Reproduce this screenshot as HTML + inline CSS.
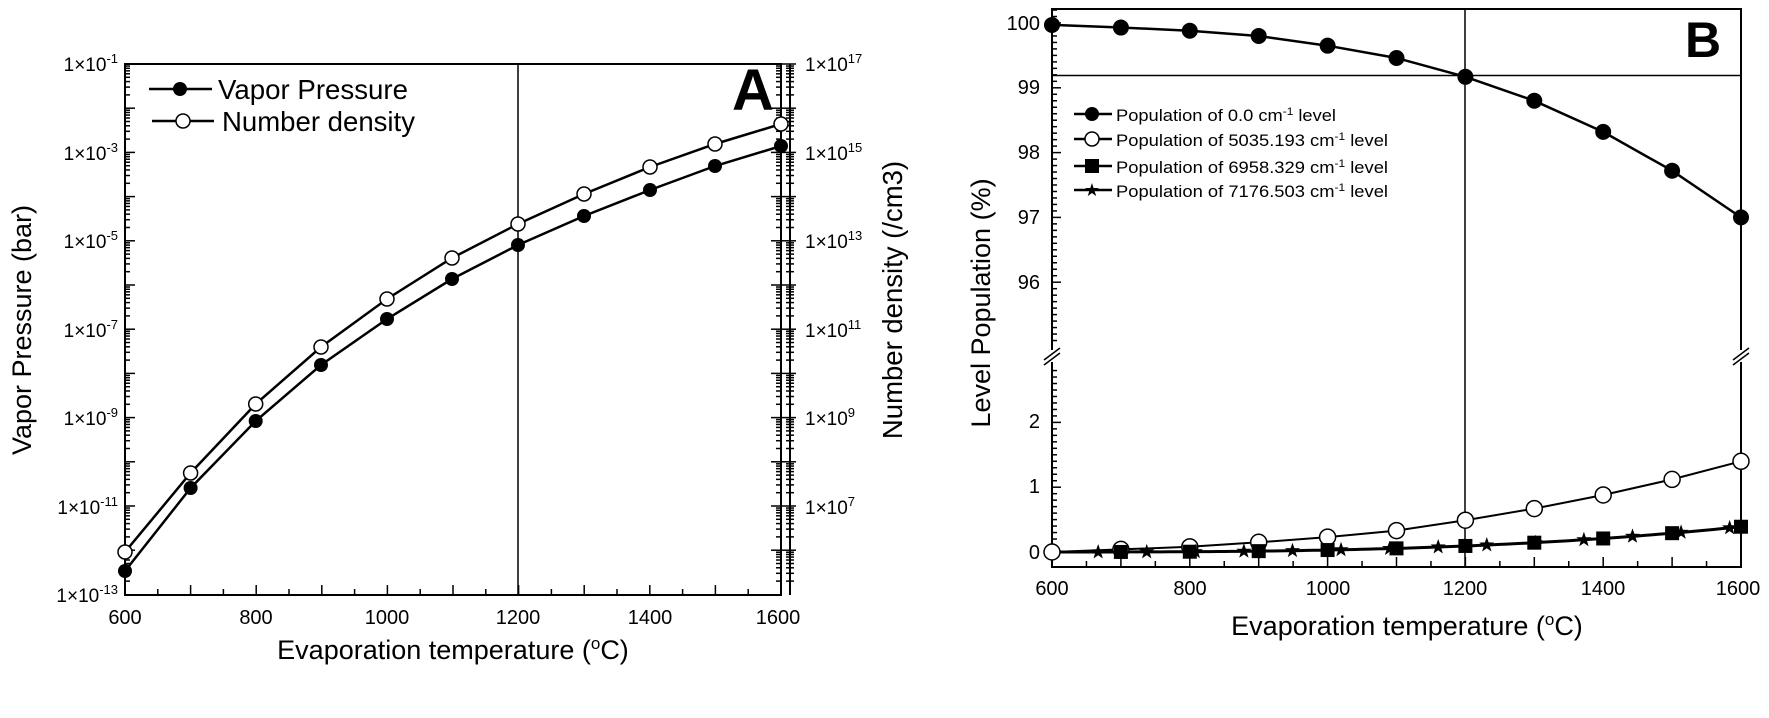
<!DOCTYPE html>
<html><head><meta charset="utf-8"><style>
html,body{margin:0;padding:0;background:#fff;}
svg{display:block;font-family:"Liberation Sans",Arial,sans-serif;}
.n{font-family:"Liberation Sans Narrow","Liberation Sans",sans-serif;}
</style></head><body>
<svg id="s" width="1769" height="718" viewBox="0 0 1769 718" xmlns="http://www.w3.org/2000/svg">
<g id="ticks" stroke="#000" stroke-width="1.5"></g>
<!-- Panel A frame -->
<rect x="125" y="64" width="656" height="531" fill="none" stroke="#000" stroke-width="2"/>
<line x1="790" y1="64" x2="790" y2="595" stroke="#000" stroke-width="2"/>
<line x1="518" y1="64" x2="518" y2="595" stroke="#000" stroke-width="1.5"/>
<!-- A curves -->
<polyline fill="none" stroke="#000" stroke-width="2.5" points="125,571 190.6,488 255.7,421 321,365 387,319 452,279 518,245 584,216 650,190 715,166 781,146"/>
<polyline fill="none" stroke="#000" stroke-width="2.5" points="125,552 190.6,473 255.7,404 321,347 387,299 452,258 518,224 584,194 650,167 715,144 781,124"/>
<g fill="#000">
<circle cx="125" cy="571" r="7"/><circle cx="190.6" cy="488" r="7"/><circle cx="255.7" cy="421" r="7"/><circle cx="321" cy="365" r="7"/><circle cx="387" cy="319" r="7"/><circle cx="452" cy="279" r="7"/><circle cx="518" cy="245" r="7"/><circle cx="584" cy="216" r="7"/><circle cx="650" cy="190" r="7"/><circle cx="715" cy="166" r="7"/><circle cx="781" cy="146" r="7"/>
</g>
<g fill="#fff" stroke="#000" stroke-width="1.5">
<circle cx="125" cy="552" r="7"/><circle cx="190.6" cy="473" r="7"/><circle cx="255.7" cy="404" r="7"/><circle cx="321" cy="347" r="7"/><circle cx="387" cy="299" r="7"/><circle cx="452" cy="258" r="7"/><circle cx="518" cy="224" r="7"/><circle cx="584" cy="194" r="7"/><circle cx="650" cy="167" r="7"/><circle cx="715" cy="144" r="7"/><circle cx="781" cy="124" r="7"/>
</g>
<!-- A legend -->
<line x1="149" y1="89" x2="212" y2="89" stroke="#000" stroke-width="2.5"/>
<circle cx="180" cy="89" r="7" fill="#000"/>
<line x1="152" y1="121" x2="214" y2="121" stroke="#000" stroke-width="2.5"/>
<circle cx="183" cy="121" r="7" fill="#fff" stroke="#000" stroke-width="1.5"/>
<text x="218" y="99" font-size="28" textLength="190" lengthAdjust="spacingAndGlyphs">Vapor Pressure</text>
<text x="222" y="131" font-size="28" textLength="193" lengthAdjust="spacingAndGlyphs">Number density</text>
<text x="732" y="110" font-size="58" font-weight="bold">A</text>
<!-- A left labels -->
<g font-size="19" text-anchor="end">
<text x="118" y="71">1×10<tspan dy="-8" font-size="13">-1</tspan></text>
<text x="118" y="160">1×10<tspan dy="-8" font-size="13">-3</tspan></text>
<text x="118" y="248">1×10<tspan dy="-8" font-size="13">-5</tspan></text>
<text x="118" y="337">1×10<tspan dy="-8" font-size="13">-7</tspan></text>
<text x="118" y="425">1×10<tspan dy="-8" font-size="13">-9</tspan></text>
<text x="118" y="514">1×10<tspan dy="-8" font-size="13">-11</tspan></text>
<text x="118" y="602">1×10<tspan dy="-8" font-size="13">-13</tspan></text>
</g>
<g font-size="19">
<text x="805" y="71">1×10<tspan dy="-8" font-size="13">17</tspan></text>
<text x="805" y="160">1×10<tspan dy="-8" font-size="13">15</tspan></text>
<text x="805" y="248">1×10<tspan dy="-8" font-size="13">13</tspan></text>
<text x="805" y="337">1×10<tspan dy="-8" font-size="13">11</tspan></text>
<text x="805" y="425">1×10<tspan dy="-8" font-size="13">9</tspan></text>
<text x="805" y="514">1×10<tspan dy="-8" font-size="13">7</tspan></text>
</g>
<g font-size="20" text-anchor="middle">
<text x="125" y="624">600</text><text x="256" y="624">800</text><text x="387" y="624">1000</text><text x="518" y="624">1200</text><text x="650" y="624">1400</text><text x="778" y="624">1600</text>
</g>
<text x="453" y="659" font-size="27" text-anchor="middle">Evaporation temperature (<tspan dy="-10" font-size="17">o</tspan><tspan dy="10">C)</tspan></text>
<text transform="translate(31,330) rotate(-90)" font-size="27" text-anchor="middle">Vapor Pressure (bar)</text>
<text transform="translate(902,300) rotate(-90)" font-size="27.5" text-anchor="middle">Number density (/cm3)</text>

<!-- Panel B frame -->
<rect x="1052" y="9" width="689" height="558" fill="none" stroke="#000" stroke-width="2"/>
<line x1="1465" y1="9" x2="1465" y2="567" stroke="#000" stroke-width="1.5"/>
<line x1="1052" y1="75.5" x2="1741" y2="75.5" stroke="#000" stroke-width="1.5"/>
<rect x="1044" y="350" width="16" height="12" fill="#fff"/>
<rect x="1733" y="350" width="16" height="12" fill="#fff"/>
<line x1="1044" y1="360" x2="1060" y2="348" stroke="#000" stroke-width="1.5"/>
<line x1="1044" y1="365" x2="1060" y2="353" stroke="#000" stroke-width="1.5"/>
<line x1="1733" y1="360" x2="1749" y2="348" stroke="#000" stroke-width="1.5"/>
<line x1="1733" y1="365" x2="1749" y2="353" stroke="#000" stroke-width="1.5"/>
<g id="bdata"></g>
<!-- B legend -->
<g stroke="#000" stroke-width="2.5">
<line x1="1074" y1="114" x2="1112" y2="114"/><line x1="1074" y1="139" x2="1112" y2="139"/><line x1="1074" y1="166" x2="1112" y2="166"/><line x1="1074" y1="190" x2="1112" y2="190"/>
</g>
<circle cx="1092" cy="114" r="7" fill="#000"/>
<circle cx="1092" cy="139" r="7" fill="#fff" stroke="#000" stroke-width="1.5"/>
<rect x="1085" y="159" width="14" height="14" fill="#000"/>
<text x="1092" y="196" font-size="18" text-anchor="middle">★</text>
<g class="n" font-size="17">
<text x="1116" y="121" textLength="220" lengthAdjust="spacingAndGlyphs">Population of 0.0 cm<tspan dy="-6" font-size="11">-1</tspan><tspan dy="6"> level</tspan></text>
<text x="1116" y="146" textLength="272" lengthAdjust="spacingAndGlyphs">Population of 5035.193 cm<tspan dy="-6" font-size="11">-1</tspan><tspan dy="6"> level</tspan></text>
<text x="1116" y="173" textLength="272" lengthAdjust="spacingAndGlyphs">Population of 6958.329 cm<tspan dy="-6" font-size="11">-1</tspan><tspan dy="6"> level</tspan></text>
<text x="1116" y="197" textLength="272" lengthAdjust="spacingAndGlyphs">Population of 7176.503 cm<tspan dy="-6" font-size="11">-1</tspan><tspan dy="6"> level</tspan></text>
</g>
<text x="1685" y="57" font-size="50" font-weight="bold">B</text>
<g font-size="20" text-anchor="end">
<text x="1040" y="30">100</text><text x="1040" y="94">99</text><text x="1040" y="159">98</text><text x="1040" y="224">97</text><text x="1040" y="289">96</text>
<text x="1040" y="428">2</text><text x="1040" y="493">1</text><text x="1040" y="559">0</text>
</g>
<g font-size="20" text-anchor="middle">
<text x="1052" y="595">600</text><text x="1190" y="595">800</text><text x="1328" y="595">1000</text><text x="1465" y="595">1200</text><text x="1603" y="595">1400</text><text x="1738" y="595">1600</text>
</g>
<text x="1407" y="635" font-size="27" text-anchor="middle">Evaporation temperature (<tspan dy="-10" font-size="17">o</tspan><tspan dy="10">C)</tspan></text>
<text transform="translate(990,303) rotate(-90)" font-size="27" text-anchor="middle">Level Population (%)</text>
</svg>
<script>
(function(){
var NS="http://www.w3.org/2000/svg";
var T=document.getElementById("ticks"),D=document.getElementById("bdata");
function el(p,n,a){var e=document.createElementNS(NS,n);for(var k in a)e.setAttribute(k,a[k]);p.appendChild(e);return e;}
function ln(x1,y1,x2,y2){el(T,"line",{x1:x1,y1:y1,x2:x2,y2:y2});}
var top=64,per=44.2;
for(var d=0;d<12;d++){var y0=top+d*per;ln(125,y0,135,y0);ln(781,y0,771,y0);
 for(var m=2;m<10;m++){var y=y0+per*(1-Math.log10(m));ln(125,y,130,y);ln(781,y,776,y);}}
ln(125,595,135,595);
for(var d=0;d<12;d++){var y0=top+d*per;ln(782,y0,796,y0);for(var m=2;m<10;m++){var y=y0+per*(1-Math.log10(m));ln(786,y,794,y);}}
for(var t=600;t<=1600;t+=50){var x=125+(t-600)*0.656;var L=(t%100==0)?10:6;ln(x,595,x,595-L);}
function bx(t){return 1052+(t-600)*0.689;}
for(var t=600;t<=1600;t+=50){var x=bx(t);var L=(t%100==0)?10:6;ln(x,567,x,567-L);}
var u=64.8;
for(var v=95.1;v<=100.25;v+=0.1){var y=23+(100-v)*u;var mj=Math.abs(v-Math.round(v))<0.01;ln(1052,y,1052+(mj?9:5),y);}
for(var v=0;v<=2.9;v+=0.1){var y=552-v*u;var mj=Math.abs(v-Math.round(v))<0.01;ln(1052,y,1052+(mj?9:5),y);}
var Ts=[600,700,800,900,1000,1100,1200,1300,1400,1500,1600];
var a=[99.97,99.93,99.88,99.8,99.65,99.46,99.17,98.8,98.32,97.72,97.0];
var b=[0.0,0.04,0.08,0.15,0.23,0.33,0.49,0.67,0.88,1.12,1.4];
function f(t){return 0.39*Math.pow((t-600)/1000,2.8);}
function path(arr,fn){var s="";arr.forEach(function(t,i){s+=(i?"L":"M")+bx(t).toFixed(1)+","+fn(t,i).toFixed(1);});return s;}
var fine=[];for(var t=600;t<=1600;t+=10)fine.push(t);
el(D,"path",{d:path(Ts,function(t,i){return 23+(100-a[i])*u;}),fill:"none",stroke:"#000","stroke-width":2.5});
el(D,"path",{d:path(Ts,function(t,i){return 552-b[i]*u;}),fill:"none",stroke:"#000","stroke-width":2});
el(D,"path",{d:path(fine,function(t){return 552-f(t)*u;}),fill:"none",stroke:"#000","stroke-width":3});
Ts.forEach(function(t,i){
 el(D,"circle",{cx:bx(t),cy:23+(100-a[i])*u,r:8,fill:"#000"});
 el(D,"circle",{cx:bx(t),cy:552-b[i]*u,r:8,fill:"#fff",stroke:"#000","stroke-width":1.5});
 if(t>600){var y=552-f(t)*u;el(D,"rect",{x:bx(t)-7,y:y-7,width:14,height:14,fill:"#000"});}
});
for(var k=0;k<14;k++){var t=667+70.5*k,x=bx(t),y=552-f(t)*u;
 var s="";for(var j=0;j<10;j++){var r=j%2?3.2:8,an=-Math.PI/2+j*Math.PI/5;s+=(x+r*Math.cos(an)).toFixed(1)+","+(y+r*Math.sin(an)).toFixed(1)+" ";}
 el(D,"polygon",{points:s,fill:"#000"});}
})();
</script>
</body></html>
